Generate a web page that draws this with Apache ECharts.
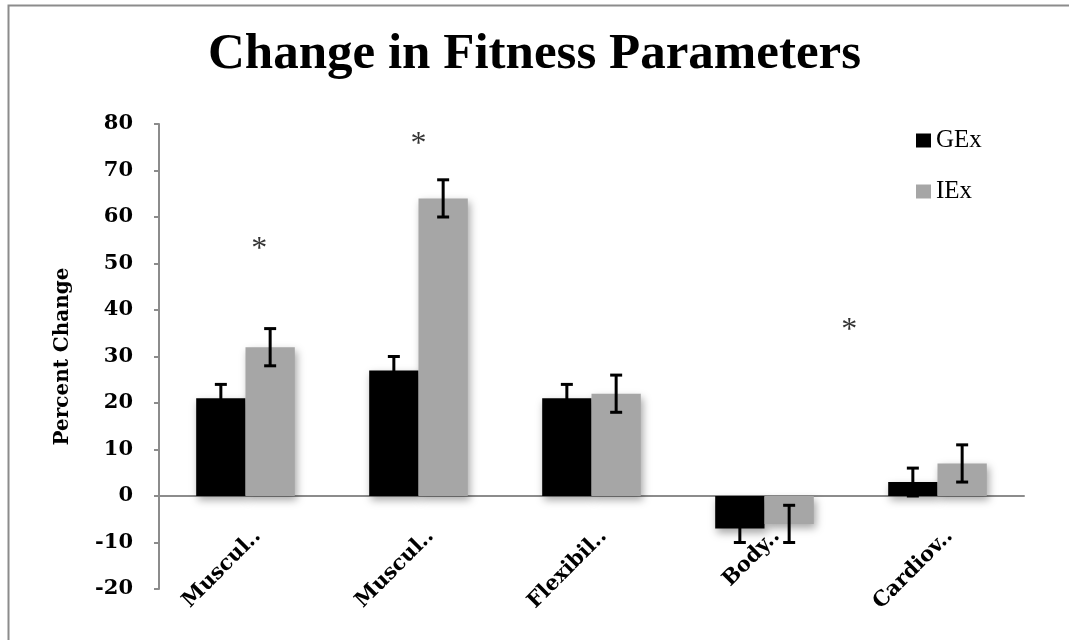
<!DOCTYPE html>
<html>
<head>
<meta charset="utf-8">
<script src="https://cdn.jsdelivr.net/npm/echarts@6/dist/echarts.min.js"></script>
<style>html,body{margin:0;padding:0;background:#fff;}#chart{width:1069px;height:640px;}</style>
</head>
<body>
<div id="chart"></div>
<script>
var categories = ['Muscular Strength', 'Muscular Endurance', 'Flexibility', 'Body Composition', 'Cardiovascular Fitness'];
var tickLabels = ['Muscul..', 'Muscul..', 'Flexibil..', 'Body..', 'Cardiov..'];
var gexValues = [21, 27, 21, -7, 3];
var iexValues = [32, 64, 22, -6, 7];
var gexErrors = [3, 3, 3, 3, 3];
var iexErrors = [4, 4, 4, 4, 4];
var asteriskX = [0.08, 1.0, 3.49];
var asteriskY = [54.2, 76.8, 36.8];
var yTicks = [-20, -10, 0, 10, 20, 30, 40, 50, 60, 70, 80];

var SERIF = '"Liberation Serif", "DejaVu Serif", serif';
var DSERIF = '"DejaVu Serif", "Liberation Serif", serif';
var GAP = 0.43;

function errData(vals, errs) {
  return vals.map(function (v, i) { return [i, v - errs[i], v + errs[i]]; });
}
function errRender(side) {
  return function (params, api) {
    var x = api.value(0);
    var lo = api.coord([x, api.value(1)]);
    var hi = api.coord([x, api.value(2)]);
    var band = api.size([1, 0])[0];
    var bw = band * (1 - GAP) / 2;
    var cx = lo[0] + side * bw / 2;
    var cap = 6;
    var st = { stroke: '#000', lineWidth: 3 };
    return {
      type: 'group',
      children: [
        { type: 'line', shape: { x1: cx, y1: lo[1], x2: cx, y2: hi[1] }, style: st },
        { type: 'line', shape: { x1: cx - cap, y1: lo[1], x2: cx + cap, y2: lo[1] }, style: st },
        { type: 'line', shape: { x1: cx - cap, y1: hi[1], x2: cx + cap, y2: hi[1] }, style: st }
      ]
    };
  };
}

var chart = echarts.init(document.getElementById('chart'));
var shadow = { shadowBlur: 8, shadowColor: 'rgba(0,0,0,0.35)', shadowOffsetX: 2, shadowOffsetY: 4 };
chart.setOption({
  animation: false,
  backgroundColor: '#fff',
  graphic: [{ type: 'rect', left: 6, top: 3, shape: { width: 1100, height: 700 }, style: { fill: 'none', stroke: '#8c8c8c', lineWidth: 2 }, silent: true }],
  title: {
    text: 'Change in Fitness Parameters',
    left: 'center',
    top: 24,
    textStyle: { fontFamily: SERIF, fontWeight: 'bold', fontSize: 51, color: '#000' }
  },
  legend: {
    orient: 'vertical',
    left: 916,
    top: 128,
    padding: 0,
    itemWidth: 15,
    itemHeight: 14,
    itemGap: 26,
    icon: 'rect',
    textStyle: { fontFamily: SERIF, fontSize: 25, color: '#000' },
    data: ['GEx', 'IEx']
  },
  grid: { left: 159, right: 45, top: 124, bottom: 51, outerBoundsMode: 'none', containLabel: false },
  xAxis: [{
    type: 'category',
    data: categories,
    axisLine: { onZero: true, lineStyle: { color: '#8c8c8c', width: 2 } },
    axisTick: { show: false },
    axisLabel: {
      interval: 0,
      rotate: 45,
      margin: -44,
      padding: [0, -17, 0, 0],
      fontFamily: DSERIF,
      fontWeight: 'bold',
      fontSize: 21,
      color: '#000',
      formatter: function (v, i) { return tickLabels[i]; }
    }
  }, {
    type: 'value',
    min: -0.5,
    max: 4.5,
    show: false
  }],
  yAxis: {
    type: 'value',
    min: -20,
    max: 80,
    interval: 10,
    name: 'Percent Change',
    nameLocation: 'middle',
    nameGap: 86,
    nameRotate: 90,
    nameTextStyle: { fontFamily: DSERIF, fontWeight: 'bold', fontSize: 20, color: '#000' },
    axisLine: { show: true, onZero: false, lineStyle: { color: '#8c8c8c', width: 2 } },
    axisTick: { show: true, length: 5, lineStyle: { color: '#8c8c8c', width: 2 } },
    splitLine: { show: false },
    axisLabel: {
      margin: 26,
      fontFamily: DSERIF,
      fontWeight: 'bold',
      fontSize: 21,
      color: '#000',
      formatter: function (v) { return yTicks.indexOf(v) >= 0 ? String(v) : ''; }
    }
  },
  series: [
    { name: 'GEx', type: 'bar', data: gexValues, barGap: '0%', barCategoryGap: (GAP * 100) + '%', itemStyle: Object.assign({ color: '#000' }, shadow) },
    { name: 'IEx', type: 'bar', data: iexValues, barGap: '0%', barCategoryGap: (GAP * 100) + '%', itemStyle: Object.assign({ color: '#a6a6a6' }, shadow) },
    { type: 'custom', renderItem: errRender(-1), data: errData(gexValues, gexErrors), encode: { x: 0, y: [1, 2] }, z: 5 },
    { type: 'custom', renderItem: errRender(1), data: errData(iexValues, iexErrors), encode: { x: 0, y: [1, 2] }, z: 5 },
    {
      type: 'scatter',
      xAxisIndex: 1,
      symbolSize: 1,
      itemStyle: { color: 'rgba(0,0,0,0)' },
      data: asteriskX.map(function (x, i) { return [x, asteriskY[i]]; }),
      label: { show: true, position: 'inside', formatter: '*', fontFamily: SERIF, fontSize: 32, color: '#000', offset: [0, 6] }
    }
  ]
});
</script>
</body>
</html>
